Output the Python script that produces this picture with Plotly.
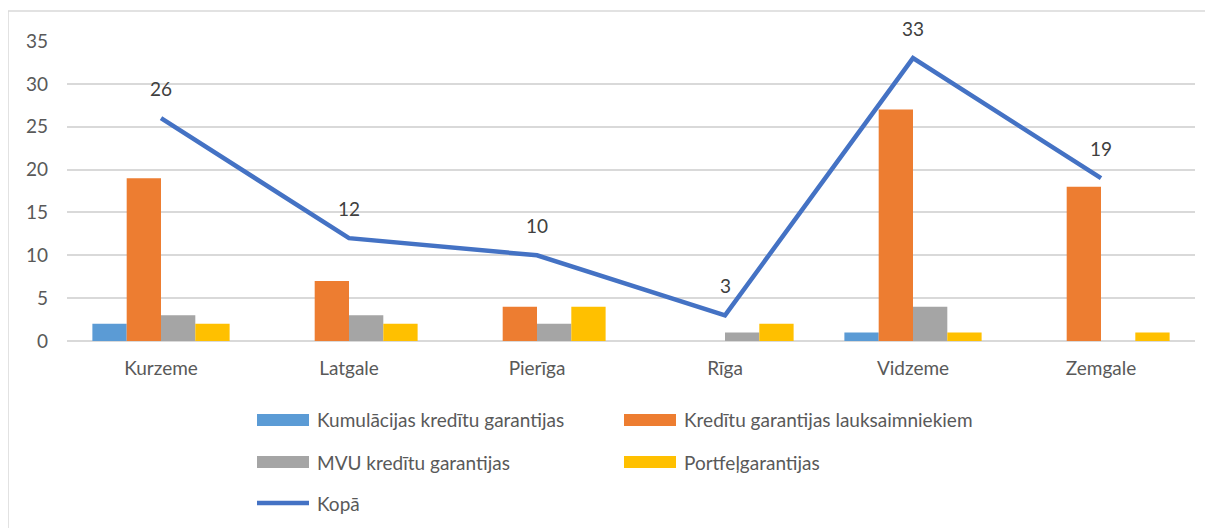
import plotly.graph_objects as go

regions = ["Kurzeme", "Latgale", "Pierīga", "Rīga", "Vidzeme", "Zemgale"]
kumulacijas = [2, 0, 0, 0, 1, 0]
lauksaimniekiem = [19, 7, 4, 0, 27, 18]
mvu = [3, 3, 2, 1, 4, 0]
portfel = [2, 2, 4, 2, 1, 1]
kopa = [26, 12, 10, 3, 33, 19]

series_names = ["Kumulācijas kredītu garantijas", "Kredītu garantijas lauksaimniekiem",
                "MVU kredītu garantijas", "Portfeļgarantijas"]
series_vals = [kumulacijas, lauksaimniekiem, mvu, portfel]
colors = ["#5B9BD5", "#ED7D31", "#A5A5A5", "#FFC000"]
line_color = "#4472C4"
FONT = "Lato, 'Open Sans', sans-serif"
TXT = "#595959"
FS = 19

fig = go.Figure()
for name, vals, c in zip(series_names, series_vals, colors):
    fig.add_trace(go.Bar(x=regions, y=vals, name=name, marker=dict(color=c, line=dict(width=0)),
                         showlegend=False))
fig.add_trace(go.Scatter(x=regions, y=kopa, name="Kopā", mode="lines",
                         line=dict(color=line_color, width=4.5), showlegend=False))

for r, v in zip(regions, kopa):
    fig.add_annotation(x=r, y=v, text=str(v), showarrow=False, yshift=30,
                       font=dict(family=FONT, size=FS, color="#404040"))

# page offset of 8px (body margin); plot-area geometry in page px: x 67..1195, y 41..341
OFF = 8
def px(xp):
    return (xp - 67) / 1128.0
def py(yp):
    return (341 - yp) / 300.0

shapes = []
annotations = []
# chart border
shapes.append(dict(type="rect", xref="paper", yref="paper", x0=px(8), x1=px(1260),
                   y0=py(580), y1=py(11), line=dict(color="#D9D9D9", width=1.5), layer="below"))

legend_items = [
    (series_names[0], colors[0], 257, 420, "bar"),
    (series_names[1], colors[1], 624, 420, "bar"),
    (series_names[2], colors[2], 257, 462, "bar"),
    (series_names[3], colors[3], 624, 462, "bar"),
    ("Kopā", line_color, 257, 503, "line"),
]
for text, c, x0, yc, kind in legend_items:
    if kind == "bar":
        shapes.append(dict(type="rect", xref="paper", yref="paper", x0=px(x0), x1=px(x0 + 52),
                           y0=py(yc + 6), y1=py(yc - 6), fillcolor=c, line=dict(width=0)))
    else:
        shapes.append(dict(type="line", xref="paper", yref="paper", x0=px(x0), x1=px(x0 + 52),
                           y0=py(yc), y1=py(yc), line=dict(color=c, width=4.5)))
    annotations.append(dict(xref="paper", yref="paper", x=px(x0 + 58), y=py(yc), text=text,
                            showarrow=False, xanchor="left", yanchor="middle",
                            font=dict(family=FONT, size=FS, color=TXT)))

for a in annotations:
    fig.add_annotation(**a)

fig.update_layout(
    width=1213, height=528,
    margin=dict(l=67 - OFF, r=1213 - (1195 - OFF), t=41 - OFF, b=528 - (341 - OFF)),
    paper_bgcolor="white", plot_bgcolor="white",
    barmode="group", bargap=0.27, bargroupgap=0,
    shapes=shapes,
    font=dict(family=FONT, size=FS, color=TXT),
    showlegend=False,
)
fig.update_xaxes(showgrid=False, showline=False, ticks="", ticklabelstandoff=14,
                 tickfont=dict(size=FS, color=TXT))
fig.update_yaxes(range=[0, 35], dtick=5, showgrid=True, gridcolor="#D9D9D9", gridwidth=1.5,
                 zeroline=True, zerolinecolor="#D9D9D9", zerolinewidth=1.5,
                 showline=False, ticks="", ticklabelstandoff=18, tickfont=dict(size=FS, color=TXT))

fig.write_html("out.html")
